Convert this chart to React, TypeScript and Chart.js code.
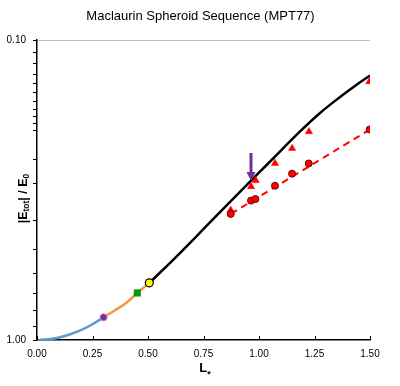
import React, { useEffect, useRef } from 'react';
import { Chart, registerables } from 'chart.js';

Chart.register(...registerables);

const TITLE = 'Maclaurin Spheroid Sequence (MPT77)';

// Maclaurin sequence, segments
const blueL = [0, 0.05, 0.1, 0.15, 0.2, 0.25, 0.3];
const blueE = [1, 0.995, 0.981, 0.957, 0.926, 0.886, 0.84];
const orangeL = [0.3, 0.35, 0.4, 0.452, 0.506];
const orangeE = [0.84, 0.797, 0.754, 0.697, 0.645];
const blackL = [0.506, 0.644, 0.779, 0.914, 1.05, 1.185, 1.275, 1.365, 1.432, 1.5];
const blackE = [0.6457, 0.5129, 0.4058, 0.321, 0.2541, 0.2018, 0.1751, 0.1549, 0.1423, 0.1313];

// special points
const purpleL = [0.3];
const purpleE = [0.84];
const greenL = [0.452];
const greenE = [0.697];
const yellowL = [0.506];
const yellowE = [0.645];

// red triangles and circles
const triL = [0.8725, 0.964, 0.985, 1.072, 1.149, 1.225, 1.497];
const triE = [0.369, 0.308, 0.294, 0.2576, 0.2297, 0.202, 0.1377];
const circL = [0.8725, 0.964, 0.984, 1.072, 1.149, 1.224, 1.4986];
const circE = [0.38, 0.343, 0.339, 0.306, 0.279, 0.258, 0.1987];

// dashed fit
const fitL = [0.8725, 1.5];
const fitE = [0.38, 0.1987];

// arrow
const arrowL = 0.964;
const arrowFromE = 0.238;
const arrowToE = 0.295;

const xTicks = [0, 0.25, 0.5, 0.75, 1.0, 1.25, 1.5];
const yLabelValues = [0.1, 1];
const yLabelTexts = ['0.10', '1.00'];

const pts = (xs: number[], ys: number[]) => xs.map((x, i) => ({ x, y: ys[i] }));

const FONT = '"Liberation Sans", Arial, sans-serif';

export default function App() {
  const ref = useRef<HTMLCanvasElement | null>(null);

  useEffect(() => {
    if (!ref.current) return;

    const decor = {
      id: 'decor',
      afterDatasetsDraw(chart: any) {
        const ctx = chart.ctx;
        const xs = chart.scales.x;
        const ys = chart.scales.y;
        const ax = xs.getPixelForValue(arrowL);
        const ay1 = ys.getPixelForValue(arrowFromE);
        const ay2 = ys.getPixelForValue(arrowToE);
        ctx.save();
        ctx.fillStyle = '#7030A0';
        ctx.fillRect(ax - 1.5, ay1, 3, ay2 - ay1 - 8);
        ctx.beginPath();
        ctx.moveTo(ax - 4.5, ay2 - 9);
        ctx.lineTo(ax + 4.5, ay2 - 9);
        ctx.lineTo(ax, ay2);
        ctx.closePath();
        ctx.fill();
        ctx.restore();
      },
      afterDraw(chart: any) {
        const ctx = chart.ctx;
        const xs = chart.scales.x;
        const area = chart.chartArea;
        ctx.save();
        ctx.strokeStyle = '#000';
        ctx.lineWidth = 1;
        xTicks.forEach((v) => {
          const px = Math.round(xs.getPixelForValue(v)) + 0.5;
          ctx.beginPath();
          ctx.moveTo(px, area.bottom);
          ctx.lineTo(px, area.bottom - 4);
          ctx.stroke();
        });
        ctx.fillStyle = '#000';
        ctx.font = '13px ' + FONT;
        ctx.textAlign = 'center';
        ctx.textBaseline = 'middle';
        ctx.fillText(TITLE, 200.5, 16);
        ctx.textBaseline = 'alphabetic';
        ctx.textAlign = 'left';
        ctx.font = 'bold 13px ' + FONT;
        const wL = ctx.measureText('L').width;
        ctx.font = 'bold 9px ' + FONT;
        const wS = ctx.measureText('*').width;
        const startX = 205 - (wL + wS) / 2;
        ctx.font = 'bold 13px ' + FONT;
        ctx.fillText('L', startX, 372);
        ctx.font = 'bold 9px ' + FONT;
        ctx.fillText('*', startX + wL, 377);
        const parts: [string, number, number][] = [
          ['|E', 12.5, 0],
          ['tot', 8.5, 2.5],
          ['| / E', 12.5, 0],
          ['0', 8.5, 2.5],
        ];
        let total = 0;
        parts.forEach(([t, s]) => {
          ctx.font = 'bold ' + s + 'px ' + FONT;
          total += ctx.measureText(t).width;
        });
        ctx.translate(26.5, 198.5);
        ctx.rotate(-Math.PI / 2);
        let cx = -total / 2;
        parts.forEach(([t, s, dy]) => {
          ctx.font = 'bold ' + s + 'px ' + FONT;
          ctx.fillText(t, cx, dy);
          cx += ctx.measureText(t).width;
        });
        ctx.restore();
      },
    };

    const lineDs = (label: string, xs: number[], ys: number[], color: string, width: number, order: number, dash?: number[]) => ({
      label,
      data: pts(xs, ys),
      showLine: true,
      borderColor: color,
      backgroundColor: color,
      borderWidth: width,
      borderDash: dash || [],
      pointRadius: 0,
      pointHoverRadius: 0,
      tension: 0.4,
      order,
    });

    const chart = new Chart(ref.current, {
      type: 'scatter',
      data: {
        datasets: [
          lineDs('blue', blueL, blueE, '#5B9BD5', 2.5, 10),
          lineDs('orange', orangeL, orangeE, '#F79646', 2.5, 10),
          lineDs('black', blackL, blackE, '#000000', 2.5, 9),
          lineDs('fit', fitL, fitE, '#FF0000', 2, 8, [7, 5]),
          {
            label: 'triangles',
            data: pts(triL, triE),
            pointStyle: 'triangle',
            pointRadius: 4.2,
            backgroundColor: '#FF0000',
            borderColor: '#FF0000',
            borderWidth: 0.5,
            order: 3,
          },
          {
            label: 'circles',
            data: pts(circL, circE),
            pointStyle: 'circle',
            pointRadius: 3.5,
            backgroundColor: '#FF0000',
            borderColor: '#6b0000',
            borderWidth: 1,
            order: 2,
          },
          {
            label: 'purple',
            data: pts(purpleL, purpleE),
            pointStyle: 'circle',
            pointRadius: 3.5,
            backgroundColor: '#7030A0',
            borderColor: '#d08090',
            borderWidth: 1,
            order: 1,
          },
          {
            label: 'green',
            data: pts(greenL, greenE),
            pointStyle: 'rect',
            pointRadius: 4.6,
            backgroundColor: '#00A000',
            borderColor: '#008000',
            borderWidth: 0.5,
            order: 1,
          },
          {
            label: 'yellow',
            data: pts(yellowL, yellowE),
            pointStyle: 'circle',
            pointRadius: 4,
            backgroundColor: '#FFFF00',
            borderColor: '#000000',
            borderWidth: 1.2,
            order: 1,
          },
        ] as any,
      },
      options: {
        responsive: false,
        maintainAspectRatio: false,
        animation: false,
        devicePixelRatio: 1,
        layout: { padding: { top: 40, right: 30, left: 0, bottom: 0 } },
        plugins: {
          legend: { display: false },
          tooltip: { enabled: false },
          title: { display: false },
        },
        scales: {
          x: {
            type: 'linear',
            min: 0,
            max: 1.5,
            afterFit: (s: any) => {
              s.height = 46;
            },
            afterBuildTicks: (s: any) => {
              s.ticks = xTicks.map((v) => ({ value: v }));
            },
            ticks: {
              padding: 8,
              color: '#000',
              font: { size: 10, family: FONT },
              callback: (v: any) => Number(v).toFixed(2),
              maxRotation: 0,
              autoSkip: false,
            },
            grid: { display: false, drawTicks: false },
            border: { display: true, color: '#000', width: 1.5 },
          },
          y: {
            type: 'logarithmic',
            reverse: true,
            min: 0.1,
            max: 1,
            afterFit: (s: any) => {
              s.width = 37;
            },
            ticks: {
              autoSkip: false,
              padding: 7,
              color: '#000',
              font: { size: 10, family: FONT },
              callback: (v: any) => {
                const i = yLabelValues.findIndex((t) => Math.abs(t - Number(v)) < 1e-9);
                return i >= 0 ? yLabelTexts[i] : '';
              },
            },
            grid: {
              display: true,
              drawOnChartArea: true,
              drawTicks: true,
              tickLength: 4,
              tickColor: '#000',
              lineWidth: 1,
              color: (c: any) =>
                c.tick && Math.abs(c.tick.value - 0.1) < 1e-9 ? '#bfbfbf' : 'rgba(0,0,0,0)',
            },
            border: { display: true, color: '#000', width: 1.5 },
          },
        },
      } as any,
      plugins: [decor],
    });

    return () => chart.destroy();
  }, []);

  return (
    <div style={{ position: 'fixed', left: 0, top: 0, width: 400, height: 386, background: '#fff' }}>
      <canvas ref={ref} width={400} height={386} style={{ width: 400, height: 386, display: 'block' }} />
    </div>
  );
}
